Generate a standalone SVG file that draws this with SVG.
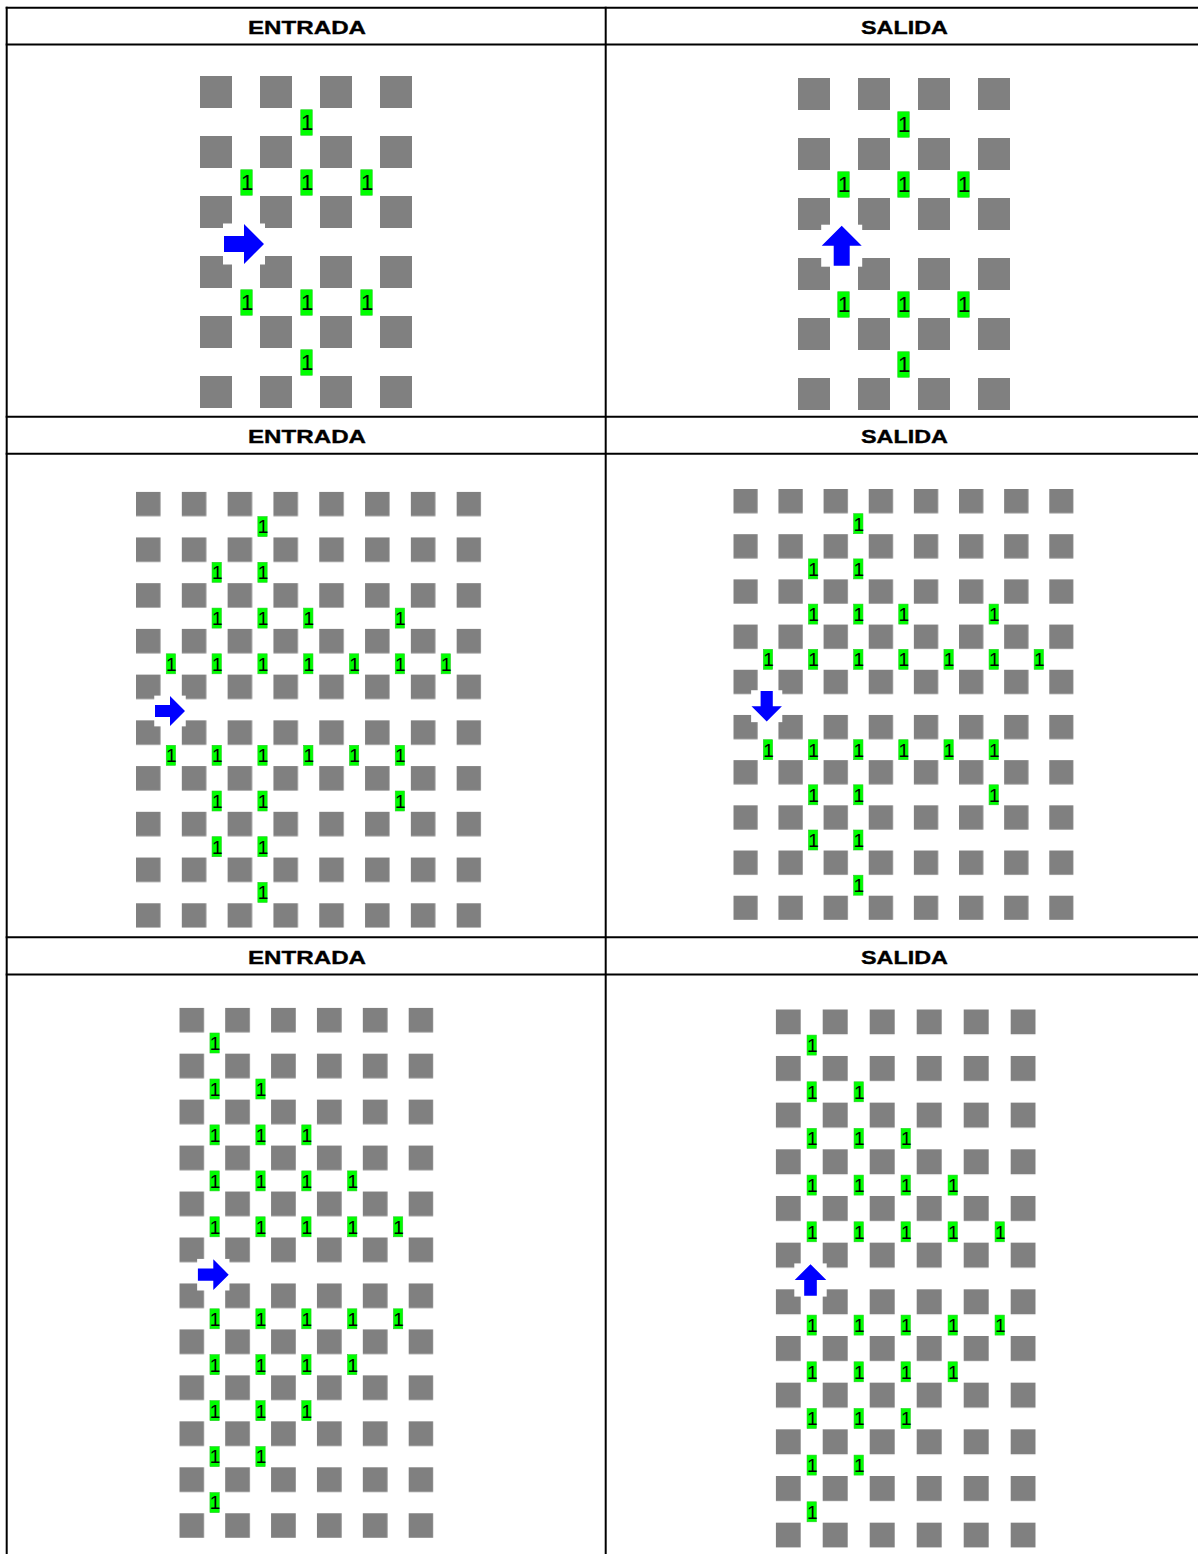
<svg xmlns="http://www.w3.org/2000/svg" xmlns:xlink="http://www.w3.org/1999/xlink" width="1198" height="1554" viewBox="0 0 1198 1554">
<style>
.hdr{font-family:"Liberation Sans",Arial,sans-serif;font-weight:bold;font-size:19px;fill:#000;stroke:#000;stroke-width:0.35;text-anchor:middle}
.lbl rect{fill:#00ff00;stroke:#22cc22;stroke-width:0.6}
.lbl text{font-family:"Liberation Sans",Arial,sans-serif;fill:#000;text-anchor:middle}
.big text{font-size:22px}
.small text{font-size:19px}
.grid{stroke:#000;stroke-width:2;fill:none}
</style>
<defs>
<pattern id="p1" patternUnits="userSpaceOnUse" x="200" y="76" width="60" height="60"><rect width="32" height="32" fill="#808080"/></pattern>
<pattern id="p2" patternUnits="userSpaceOnUse" x="798" y="78" width="60" height="60"><rect width="32" height="32" fill="#808080"/></pattern>
<pattern id="p3" patternUnits="userSpaceOnUse" x="136" y="491.7" width="45.81" height="45.73"><rect width="24.5" height="24.5" fill="#808080"/></pattern>
<pattern id="p4" patternUnits="userSpaceOnUse" x="733.3" y="489" width="45.14" height="45.19"><rect width="24.3" height="24.3" fill="#808080"/></pattern>
<pattern id="p5" patternUnits="userSpaceOnUse" x="179.3" y="1007.7" width="45.88" height="45.96"><rect width="24.7" height="24.7" fill="#808080"/></pattern>
<pattern id="p6" patternUnits="userSpaceOnUse" x="775.7" y="1009.3" width="47" height="46.67"><rect width="25" height="25" fill="#808080"/></pattern>
<g id="arR"><rect x="-21" y="-20.5" width="42" height="41" fill="#ffffff"/><path d="M-20,-8H0V-20L20,0L0,20V8H-20Z" fill="#0000ff"/></g>
</defs>
<rect width="1198" height="1554" fill="#ffffff"/>

<g id="table" class="grid">
<line x1="5.7" y1="7.8" x2="1198" y2="7.8"/>
<line x1="5.7" y1="44.5" x2="1198" y2="44.5"/>
<line x1="5.7" y1="416.7" x2="1198" y2="416.7"/>
<line x1="5.7" y1="453.7" x2="1198" y2="453.7"/>
<line x1="5.7" y1="937.3" x2="1198" y2="937.3"/>
<line x1="5.7" y1="974.5" x2="1198" y2="974.5"/>
<line x1="6.7" y1="6.8" x2="6.7" y2="1554"/>
<line x1="605.7" y1="6.8" x2="605.7" y2="1554"/>
</g>

<g id="headers">
<text class="hdr" x="307" y="33.8" textLength="118" lengthAdjust="spacingAndGlyphs">ENTRADA</text>
<text class="hdr" x="904.5" y="33.8" textLength="87" lengthAdjust="spacingAndGlyphs">SALIDA</text>
<text class="hdr" x="307" y="442.8" textLength="118" lengthAdjust="spacingAndGlyphs">ENTRADA</text>
<text class="hdr" x="904.5" y="442.8" textLength="87" lengthAdjust="spacingAndGlyphs">SALIDA</text>
<text class="hdr" x="307" y="963.8" textLength="118" lengthAdjust="spacingAndGlyphs">ENTRADA</text>
<text class="hdr" x="904.5" y="963.8" textLength="87" lengthAdjust="spacingAndGlyphs">SALIDA</text>
</g>

<g id="panel1">
<rect x="200" y="76" width="212" height="332" fill="url(#p1)"/>
<g class="lbl big">
<g transform="translate(306.5 122.5)"><rect x="-5.75" y="-12.75" width="11.5" height="25.5"/><text x="0.6" y="7.9">1</text></g>
<g transform="translate(246.5 182.5)"><rect x="-5.75" y="-12.75" width="11.5" height="25.5"/><text x="0.6" y="7.9">1</text></g>
<g transform="translate(306.5 182.5)"><rect x="-5.75" y="-12.75" width="11.5" height="25.5"/><text x="0.6" y="7.9">1</text></g>
<g transform="translate(366.5 182.5)"><rect x="-5.75" y="-12.75" width="11.5" height="25.5"/><text x="0.6" y="7.9">1</text></g>
<g transform="translate(246.5 302.5)"><rect x="-5.75" y="-12.75" width="11.5" height="25.5"/><text x="0.6" y="7.9">1</text></g>
<g transform="translate(306.5 302.5)"><rect x="-5.75" y="-12.75" width="11.5" height="25.5"/><text x="0.6" y="7.9">1</text></g>
<g transform="translate(366.5 302.5)"><rect x="-5.75" y="-12.75" width="11.5" height="25.5"/><text x="0.6" y="7.9">1</text></g>
<g transform="translate(306.5 362.5)"><rect x="-5.75" y="-12.75" width="11.5" height="25.5"/><text x="0.6" y="7.9">1</text></g>
</g>
<use xlink:href="#arR" transform="translate(244 244)"/>
</g>

<g id="panel2">
<rect x="798" y="78" width="212" height="332" fill="url(#p2)"/>
<g class="lbl big">
<g transform="translate(903.5 124.5)"><rect x="-5.75" y="-12.75" width="11.5" height="25.5"/><text x="0.6" y="7.9">1</text></g>
<g transform="translate(843.5 184.5)"><rect x="-5.75" y="-12.75" width="11.5" height="25.5"/><text x="0.6" y="7.9">1</text></g>
<g transform="translate(903.5 184.5)"><rect x="-5.75" y="-12.75" width="11.5" height="25.5"/><text x="0.6" y="7.9">1</text></g>
<g transform="translate(963.5 184.5)"><rect x="-5.75" y="-12.75" width="11.5" height="25.5"/><text x="0.6" y="7.9">1</text></g>
<g transform="translate(843.5 304.5)"><rect x="-5.75" y="-12.75" width="11.5" height="25.5"/><text x="0.6" y="7.9">1</text></g>
<g transform="translate(903.5 304.5)"><rect x="-5.75" y="-12.75" width="11.5" height="25.5"/><text x="0.6" y="7.9">1</text></g>
<g transform="translate(963.5 304.5)"><rect x="-5.75" y="-12.75" width="11.5" height="25.5"/><text x="0.6" y="7.9">1</text></g>
<g transform="translate(903.5 364.5)"><rect x="-5.75" y="-12.75" width="11.5" height="25.5"/><text x="0.6" y="7.9">1</text></g>
</g>
<use xlink:href="#arR" transform="translate(841.7 245.7) rotate(-90)"/>
</g>

<g id="panel3">
<rect x="136" y="491.7" width="345.2" height="436.1" fill="url(#p3)"/>
<g class="lbl small">
<g transform="translate(262.5 526.6)"><rect x="-4.65" y="-10" width="9.3" height="20"/><text x="0.5" y="6.8">1</text></g>
<g transform="translate(216.7 572.3)"><rect x="-4.65" y="-10" width="9.3" height="20"/><text x="0.5" y="6.8">1</text></g>
<g transform="translate(262.5 572.3)"><rect x="-4.65" y="-10" width="9.3" height="20"/><text x="0.5" y="6.8">1</text></g>
<g transform="translate(216.7 618.1)"><rect x="-4.65" y="-10" width="9.3" height="20"/><text x="0.5" y="6.8">1</text></g>
<g transform="translate(262.5 618.1)"><rect x="-4.65" y="-10" width="9.3" height="20"/><text x="0.5" y="6.8">1</text></g>
<g transform="translate(308.3 618.1)"><rect x="-4.65" y="-10" width="9.3" height="20"/><text x="0.5" y="6.8">1</text></g>
<g transform="translate(399.9 618.1)"><rect x="-4.65" y="-10" width="9.3" height="20"/><text x="0.5" y="6.8">1</text></g>
<g transform="translate(170.9 663.8)"><rect x="-4.65" y="-10" width="9.3" height="20"/><text x="0.5" y="6.8">1</text></g>
<g transform="translate(216.7 663.8)"><rect x="-4.65" y="-10" width="9.3" height="20"/><text x="0.5" y="6.8">1</text></g>
<g transform="translate(262.5 663.8)"><rect x="-4.65" y="-10" width="9.3" height="20"/><text x="0.5" y="6.8">1</text></g>
<g transform="translate(308.3 663.8)"><rect x="-4.65" y="-10" width="9.3" height="20"/><text x="0.5" y="6.8">1</text></g>
<g transform="translate(354.1 663.8)"><rect x="-4.65" y="-10" width="9.3" height="20"/><text x="0.5" y="6.8">1</text></g>
<g transform="translate(399.9 663.8)"><rect x="-4.65" y="-10" width="9.3" height="20"/><text x="0.5" y="6.8">1</text></g>
<g transform="translate(445.8 663.8)"><rect x="-4.65" y="-10" width="9.3" height="20"/><text x="0.5" y="6.8">1</text></g>
<g transform="translate(170.9 755.3)"><rect x="-4.65" y="-10" width="9.3" height="20"/><text x="0.5" y="6.8">1</text></g>
<g transform="translate(216.7 755.3)"><rect x="-4.65" y="-10" width="9.3" height="20"/><text x="0.5" y="6.8">1</text></g>
<g transform="translate(262.5 755.3)"><rect x="-4.65" y="-10" width="9.3" height="20"/><text x="0.5" y="6.8">1</text></g>
<g transform="translate(308.3 755.3)"><rect x="-4.65" y="-10" width="9.3" height="20"/><text x="0.5" y="6.8">1</text></g>
<g transform="translate(354.1 755.3)"><rect x="-4.65" y="-10" width="9.3" height="20"/><text x="0.5" y="6.8">1</text></g>
<g transform="translate(399.9 755.3)"><rect x="-4.65" y="-10" width="9.3" height="20"/><text x="0.5" y="6.8">1</text></g>
<g transform="translate(216.7 801)"><rect x="-4.65" y="-10" width="9.3" height="20"/><text x="0.5" y="6.8">1</text></g>
<g transform="translate(262.5 801)"><rect x="-4.65" y="-10" width="9.3" height="20"/><text x="0.5" y="6.8">1</text></g>
<g transform="translate(399.9 801)"><rect x="-4.65" y="-10" width="9.3" height="20"/><text x="0.5" y="6.8">1</text></g>
<g transform="translate(216.7 846.7)"><rect x="-4.65" y="-10" width="9.3" height="20"/><text x="0.5" y="6.8">1</text></g>
<g transform="translate(262.5 846.7)"><rect x="-4.65" y="-10" width="9.3" height="20"/><text x="0.5" y="6.8">1</text></g>
<g transform="translate(262.5 892.4)"><rect x="-4.65" y="-10" width="9.3" height="20"/><text x="0.5" y="6.8">1</text></g>
</g>
<use xlink:href="#arR" transform="translate(170 711) scale(0.75)"/>
</g>

<g id="panel4">
<rect x="733.3" y="489" width="340.3" height="431" fill="url(#p4)"/>
<g class="lbl small">
<g transform="translate(858.3 523.7)"><rect x="-4.65" y="-10" width="9.3" height="20"/><text x="0.5" y="6.8">1</text></g>
<g transform="translate(813.1 568.9)"><rect x="-4.65" y="-10" width="9.3" height="20"/><text x="0.5" y="6.8">1</text></g>
<g transform="translate(858.3 568.9)"><rect x="-4.65" y="-10" width="9.3" height="20"/><text x="0.5" y="6.8">1</text></g>
<g transform="translate(813.1 614.1)"><rect x="-4.65" y="-10" width="9.3" height="20"/><text x="0.5" y="6.8">1</text></g>
<g transform="translate(858.3 614.1)"><rect x="-4.65" y="-10" width="9.3" height="20"/><text x="0.5" y="6.8">1</text></g>
<g transform="translate(903.4 614.1)"><rect x="-4.65" y="-10" width="9.3" height="20"/><text x="0.5" y="6.8">1</text></g>
<g transform="translate(993.7 614.1)"><rect x="-4.65" y="-10" width="9.3" height="20"/><text x="0.5" y="6.8">1</text></g>
<g transform="translate(768 659.3)"><rect x="-4.65" y="-10" width="9.3" height="20"/><text x="0.5" y="6.8">1</text></g>
<g transform="translate(813.1 659.3)"><rect x="-4.65" y="-10" width="9.3" height="20"/><text x="0.5" y="6.8">1</text></g>
<g transform="translate(858.3 659.3)"><rect x="-4.65" y="-10" width="9.3" height="20"/><text x="0.5" y="6.8">1</text></g>
<g transform="translate(903.4 659.3)"><rect x="-4.65" y="-10" width="9.3" height="20"/><text x="0.5" y="6.8">1</text></g>
<g transform="translate(948.6 659.3)"><rect x="-4.65" y="-10" width="9.3" height="20"/><text x="0.5" y="6.8">1</text></g>
<g transform="translate(993.7 659.3)"><rect x="-4.65" y="-10" width="9.3" height="20"/><text x="0.5" y="6.8">1</text></g>
<g transform="translate(1038.8 659.3)"><rect x="-4.65" y="-10" width="9.3" height="20"/><text x="0.5" y="6.8">1</text></g>
<g transform="translate(768 749.7)"><rect x="-4.65" y="-10" width="9.3" height="20"/><text x="0.5" y="6.8">1</text></g>
<g transform="translate(813.1 749.7)"><rect x="-4.65" y="-10" width="9.3" height="20"/><text x="0.5" y="6.8">1</text></g>
<g transform="translate(858.3 749.7)"><rect x="-4.65" y="-10" width="9.3" height="20"/><text x="0.5" y="6.8">1</text></g>
<g transform="translate(903.4 749.7)"><rect x="-4.65" y="-10" width="9.3" height="20"/><text x="0.5" y="6.8">1</text></g>
<g transform="translate(948.6 749.7)"><rect x="-4.65" y="-10" width="9.3" height="20"/><text x="0.5" y="6.8">1</text></g>
<g transform="translate(993.7 749.7)"><rect x="-4.65" y="-10" width="9.3" height="20"/><text x="0.5" y="6.8">1</text></g>
<g transform="translate(813.1 794.8)"><rect x="-4.65" y="-10" width="9.3" height="20"/><text x="0.5" y="6.8">1</text></g>
<g transform="translate(858.3 794.8)"><rect x="-4.65" y="-10" width="9.3" height="20"/><text x="0.5" y="6.8">1</text></g>
<g transform="translate(993.7 794.8)"><rect x="-4.65" y="-10" width="9.3" height="20"/><text x="0.5" y="6.8">1</text></g>
<g transform="translate(813.1 840)"><rect x="-4.65" y="-10" width="9.3" height="20"/><text x="0.5" y="6.8">1</text></g>
<g transform="translate(858.3 840)"><rect x="-4.65" y="-10" width="9.3" height="20"/><text x="0.5" y="6.8">1</text></g>
<g transform="translate(858.3 885.2)"><rect x="-4.65" y="-10" width="9.3" height="20"/><text x="0.5" y="6.8">1</text></g>
</g>
<use xlink:href="#arR" transform="translate(766.7 706.2) rotate(90) scale(0.76)"/>
</g>

<g id="panel5">
<rect x="179.3" y="1007.7" width="254.1" height="530.3" fill="url(#p5)"/>
<g class="lbl small">
<g transform="translate(214.6 1043)"><rect x="-4.65" y="-10" width="9.3" height="20"/><text x="0.5" y="6.8">1</text></g>
<g transform="translate(214.6 1089)"><rect x="-4.65" y="-10" width="9.3" height="20"/><text x="0.5" y="6.8">1</text></g>
<g transform="translate(260.5 1089)"><rect x="-4.65" y="-10" width="9.3" height="20"/><text x="0.5" y="6.8">1</text></g>
<g transform="translate(214.6 1134.9)"><rect x="-4.65" y="-10" width="9.3" height="20"/><text x="0.5" y="6.8">1</text></g>
<g transform="translate(260.5 1134.9)"><rect x="-4.65" y="-10" width="9.3" height="20"/><text x="0.5" y="6.8">1</text></g>
<g transform="translate(306.4 1134.9)"><rect x="-4.65" y="-10" width="9.3" height="20"/><text x="0.5" y="6.8">1</text></g>
<g transform="translate(214.6 1180.9)"><rect x="-4.65" y="-10" width="9.3" height="20"/><text x="0.5" y="6.8">1</text></g>
<g transform="translate(260.5 1180.9)"><rect x="-4.65" y="-10" width="9.3" height="20"/><text x="0.5" y="6.8">1</text></g>
<g transform="translate(306.4 1180.9)"><rect x="-4.65" y="-10" width="9.3" height="20"/><text x="0.5" y="6.8">1</text></g>
<g transform="translate(352.2 1180.9)"><rect x="-4.65" y="-10" width="9.3" height="20"/><text x="0.5" y="6.8">1</text></g>
<g transform="translate(214.6 1226.8)"><rect x="-4.65" y="-10" width="9.3" height="20"/><text x="0.5" y="6.8">1</text></g>
<g transform="translate(260.5 1226.8)"><rect x="-4.65" y="-10" width="9.3" height="20"/><text x="0.5" y="6.8">1</text></g>
<g transform="translate(306.4 1226.8)"><rect x="-4.65" y="-10" width="9.3" height="20"/><text x="0.5" y="6.8">1</text></g>
<g transform="translate(352.2 1226.8)"><rect x="-4.65" y="-10" width="9.3" height="20"/><text x="0.5" y="6.8">1</text></g>
<g transform="translate(398.1 1226.8)"><rect x="-4.65" y="-10" width="9.3" height="20"/><text x="0.5" y="6.8">1</text></g>
<g transform="translate(214.6 1318.8)"><rect x="-4.65" y="-10" width="9.3" height="20"/><text x="0.5" y="6.8">1</text></g>
<g transform="translate(260.5 1318.8)"><rect x="-4.65" y="-10" width="9.3" height="20"/><text x="0.5" y="6.8">1</text></g>
<g transform="translate(306.4 1318.8)"><rect x="-4.65" y="-10" width="9.3" height="20"/><text x="0.5" y="6.8">1</text></g>
<g transform="translate(352.2 1318.8)"><rect x="-4.65" y="-10" width="9.3" height="20"/><text x="0.5" y="6.8">1</text></g>
<g transform="translate(398.1 1318.8)"><rect x="-4.65" y="-10" width="9.3" height="20"/><text x="0.5" y="6.8">1</text></g>
<g transform="translate(214.6 1364.7)"><rect x="-4.65" y="-10" width="9.3" height="20"/><text x="0.5" y="6.8">1</text></g>
<g transform="translate(260.5 1364.7)"><rect x="-4.65" y="-10" width="9.3" height="20"/><text x="0.5" y="6.8">1</text></g>
<g transform="translate(306.4 1364.7)"><rect x="-4.65" y="-10" width="9.3" height="20"/><text x="0.5" y="6.8">1</text></g>
<g transform="translate(352.2 1364.7)"><rect x="-4.65" y="-10" width="9.3" height="20"/><text x="0.5" y="6.8">1</text></g>
<g transform="translate(214.6 1410.7)"><rect x="-4.65" y="-10" width="9.3" height="20"/><text x="0.5" y="6.8">1</text></g>
<g transform="translate(260.5 1410.7)"><rect x="-4.65" y="-10" width="9.3" height="20"/><text x="0.5" y="6.8">1</text></g>
<g transform="translate(306.4 1410.7)"><rect x="-4.65" y="-10" width="9.3" height="20"/><text x="0.5" y="6.8">1</text></g>
<g transform="translate(214.6 1456.6)"><rect x="-4.65" y="-10" width="9.3" height="20"/><text x="0.5" y="6.8">1</text></g>
<g transform="translate(260.5 1456.6)"><rect x="-4.65" y="-10" width="9.3" height="20"/><text x="0.5" y="6.8">1</text></g>
<g transform="translate(214.6 1502.6)"><rect x="-4.65" y="-10" width="9.3" height="20"/><text x="0.5" y="6.8">1</text></g>
</g>
<use xlink:href="#arR" transform="translate(213.3 1274.7) scale(0.77)"/>
</g>

<g id="panel6">
<rect x="775.7" y="1009.3" width="260" height="538.4" fill="url(#p6)"/>
<g class="lbl small">
<g transform="translate(811.7 1045.1)"><rect x="-4.65" y="-10" width="9.3" height="20"/><text x="0.5" y="6.8">1</text></g>
<g transform="translate(811.7 1091.8)"><rect x="-4.65" y="-10" width="9.3" height="20"/><text x="0.5" y="6.8">1</text></g>
<g transform="translate(858.7 1091.8)"><rect x="-4.65" y="-10" width="9.3" height="20"/><text x="0.5" y="6.8">1</text></g>
<g transform="translate(811.7 1138.4)"><rect x="-4.65" y="-10" width="9.3" height="20"/><text x="0.5" y="6.8">1</text></g>
<g transform="translate(858.7 1138.4)"><rect x="-4.65" y="-10" width="9.3" height="20"/><text x="0.5" y="6.8">1</text></g>
<g transform="translate(905.7 1138.4)"><rect x="-4.65" y="-10" width="9.3" height="20"/><text x="0.5" y="6.8">1</text></g>
<g transform="translate(811.7 1185.1)"><rect x="-4.65" y="-10" width="9.3" height="20"/><text x="0.5" y="6.8">1</text></g>
<g transform="translate(858.7 1185.1)"><rect x="-4.65" y="-10" width="9.3" height="20"/><text x="0.5" y="6.8">1</text></g>
<g transform="translate(905.7 1185.1)"><rect x="-4.65" y="-10" width="9.3" height="20"/><text x="0.5" y="6.8">1</text></g>
<g transform="translate(952.7 1185.1)"><rect x="-4.65" y="-10" width="9.3" height="20"/><text x="0.5" y="6.8">1</text></g>
<g transform="translate(811.7 1231.8)"><rect x="-4.65" y="-10" width="9.3" height="20"/><text x="0.5" y="6.8">1</text></g>
<g transform="translate(858.7 1231.8)"><rect x="-4.65" y="-10" width="9.3" height="20"/><text x="0.5" y="6.8">1</text></g>
<g transform="translate(905.7 1231.8)"><rect x="-4.65" y="-10" width="9.3" height="20"/><text x="0.5" y="6.8">1</text></g>
<g transform="translate(952.7 1231.8)"><rect x="-4.65" y="-10" width="9.3" height="20"/><text x="0.5" y="6.8">1</text></g>
<g transform="translate(999.7 1231.8)"><rect x="-4.65" y="-10" width="9.3" height="20"/><text x="0.5" y="6.8">1</text></g>
<g transform="translate(811.7 1325.1)"><rect x="-4.65" y="-10" width="9.3" height="20"/><text x="0.5" y="6.8">1</text></g>
<g transform="translate(858.7 1325.1)"><rect x="-4.65" y="-10" width="9.3" height="20"/><text x="0.5" y="6.8">1</text></g>
<g transform="translate(905.7 1325.1)"><rect x="-4.65" y="-10" width="9.3" height="20"/><text x="0.5" y="6.8">1</text></g>
<g transform="translate(952.7 1325.1)"><rect x="-4.65" y="-10" width="9.3" height="20"/><text x="0.5" y="6.8">1</text></g>
<g transform="translate(999.7 1325.1)"><rect x="-4.65" y="-10" width="9.3" height="20"/><text x="0.5" y="6.8">1</text></g>
<g transform="translate(811.7 1371.8)"><rect x="-4.65" y="-10" width="9.3" height="20"/><text x="0.5" y="6.8">1</text></g>
<g transform="translate(858.7 1371.8)"><rect x="-4.65" y="-10" width="9.3" height="20"/><text x="0.5" y="6.8">1</text></g>
<g transform="translate(905.7 1371.8)"><rect x="-4.65" y="-10" width="9.3" height="20"/><text x="0.5" y="6.8">1</text></g>
<g transform="translate(952.7 1371.8)"><rect x="-4.65" y="-10" width="9.3" height="20"/><text x="0.5" y="6.8">1</text></g>
<g transform="translate(811.7 1418.5)"><rect x="-4.65" y="-10" width="9.3" height="20"/><text x="0.5" y="6.8">1</text></g>
<g transform="translate(858.7 1418.5)"><rect x="-4.65" y="-10" width="9.3" height="20"/><text x="0.5" y="6.8">1</text></g>
<g transform="translate(905.7 1418.5)"><rect x="-4.65" y="-10" width="9.3" height="20"/><text x="0.5" y="6.8">1</text></g>
<g transform="translate(811.7 1465.1)"><rect x="-4.65" y="-10" width="9.3" height="20"/><text x="0.5" y="6.8">1</text></g>
<g transform="translate(858.7 1465.1)"><rect x="-4.65" y="-10" width="9.3" height="20"/><text x="0.5" y="6.8">1</text></g>
<g transform="translate(811.7 1511.8)"><rect x="-4.65" y="-10" width="9.3" height="20"/><text x="0.5" y="6.8">1</text></g>
</g>
<use xlink:href="#arR" transform="translate(810.5 1280) rotate(-90) scale(0.79)"/>
</g>
</svg>
